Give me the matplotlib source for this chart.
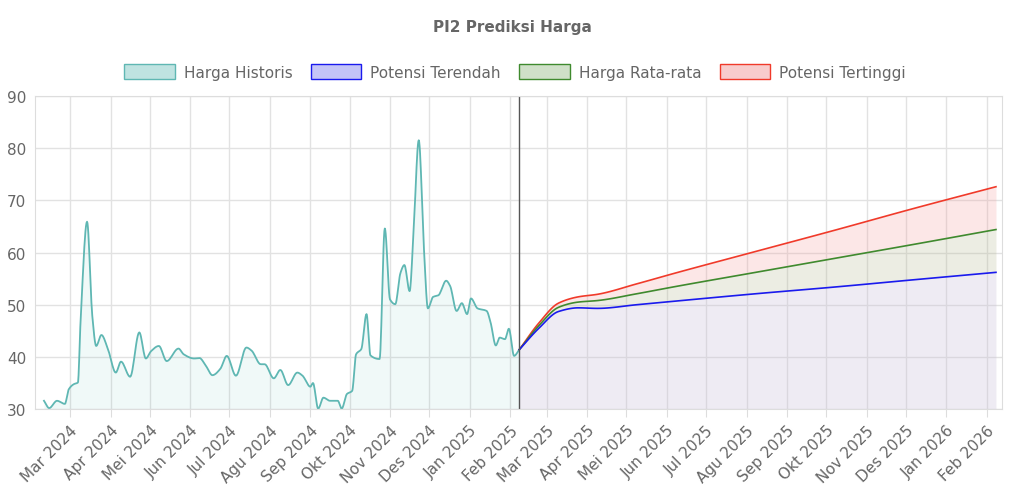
import numpy as np
import matplotlib
matplotlib.use("Agg")
import matplotlib.pyplot as plt
import matplotlib.dates as mdates
from datetime import date, timedelta

start = date(2024, 2, 10)
hist_days = [0,4,10,16,19,23,26,28,33,37,40,44,49,55,59,66,73,78,82,88,94,103,107,115,119,124,129,135,140,147,155,159,166,169,176,181,187,194,198,204,206,210,214,219,225,228,232,236,239,243,247,250,257,261,265,269,273,276,280,283,287,291,294,298,302,308,311,316,320,324,327,332,339,342,346,349,353,356,360,364]
hist_vals = [31.6,30.2,31.6,31,33.8,34.8,35.1,46.6,65.9,47.9,42.1,44.2,41.5,37,39.1,36.2,44.7,39.7,41.1,42.1,39.2,41.6,40.5,39.7,39.8,38.3,36.5,37.7,40.2,36.4,41.8,41.2,38.6,38.6,35.9,37.5,34.6,37,36.4,34.3,35,30.1,32.2,31.6,31.6,30.1,32.9,33.5,40.5,41.5,48.2,40.3,39.6,64.6,51,50.1,56.1,57.6,52.6,63.8,81.5,60.6,49.3,51.5,51.8,54.6,53.6,48.8,50.3,48.2,51.2,49.3,48.8,46.6,42.2,43.7,43.4,45.4,40.2,41.4]
fc_days = [364,379,394,409,424,454,484,545,606,667,729]
fc_low  = [41.4,45.5,48.7,49.4,49.3,50.0,50.7,52.1,53.4,54.8,56.2]
fc_avg  = [41.4,46.0,49.5,50.5,50.8,52.1,53.5,56.2,58.9,61.6,64.4]
fc_high = [41.4,46.5,50.3,51.5,52.0,54.0,56.1,60.2,64.3,68.5,72.6]
month_labels = ["Mar 2024","Apr 2024","Mei 2024","Jun 2024","Jul 2024","Agu 2024","Sep 2024","Okt 2024","Nov 2024","Des 2024","Jan 2025","Feb 2025","Mar 2025","Apr 2025","Mei 2025","Jun 2025","Jul 2025","Agu 2025","Sep 2025","Okt 2025","Nov 2025","Des 2025","Jan 2026","Feb 2026"]

def mono(x, y, n=12):
    x = np.asarray(x, float); y = np.asarray(y, float)
    h = np.diff(x); d = np.diff(y) / h
    m = np.zeros_like(y)
    m[0], m[-1] = d[0], d[-1]
    for i in range(1, len(y) - 1):
        if d[i-1] * d[i] <= 0:
            m[i] = 0
        else:
            w1 = 2*h[i] + h[i-1]; w2 = h[i] + 2*h[i-1]
            m[i] = (w1 + w2) / (w1/d[i-1] + w2/d[i])
    xs, ys = [], []
    for i in range(len(h)):
        t = np.linspace(0, 1, n, endpoint=False)
        h00 = 2*t**3-3*t**2+1; h10 = t**3-2*t**2+t; h01 = -2*t**3+3*t**2; h11 = t**3-t**2
        xs.append(x[i] + t*h[i])
        ys.append(h00*y[i] + h10*h[i]*m[i] + h01*y[i+1] + h11*h[i]*m[i+1])
    xs.append([x[-1]]); ys.append([y[-1]])
    return np.concatenate(xs), np.concatenate(ys)

def todate(days):
    base = mdates.date2num(start)
    return base + np.asarray(days, float)

fig = plt.figure(figsize=(10.24, 5.02), dpi=100)
ax = fig.add_axes([0.034, 0.183, 0.945, 0.624])

hx, hy = mono(hist_days, hist_vals)
lx, ly = mono(fc_days, fc_low)
ax_, ay = mono(fc_days, fc_avg)
gx, gy = mono(fc_days, fc_high)

ax.fill_between(todate(hx), 30, hy, color="#4bb3ad", alpha=0.08, lw=0)
ax.fill_between(todate(gx), ay, gy, color="#f4a0a0", alpha=0.25, lw=0)
ax.fill_between(todate(lx), ly, ay, color="#b5b890", alpha=0.25, lw=0)
ax.fill_between(todate(lx), 30, ly, color="#c8c0d8", alpha=0.3, lw=0)

ax.plot(todate(hx), hy, color="#5fb7b3", lw=1.3)
ax.plot(todate(gx), gy, color="#f03a2a", lw=1.2)
ax.plot(todate(ax_), ay, color="#3f8a2e", lw=1.2)
ax.plot(todate(lx), ly, color="#1a1aee", lw=1.2)
ax.axvline(todate([364])[0], color="#555555", lw=1)

ax.set_ylim(30, 90)
ax.set_yticks(range(30, 91, 10))
ax.set_xlim(todate([-7])[0], todate([734])[0])
ticks = [mdates.date2num(date(2024 + (2 + i) // 12, (2 + i) % 12 + 1, 1)) for i in range(len(month_labels))]
ax.set_xticks(ticks)
ax.set_xticklabels(month_labels, rotation=45, ha="right", rotation_mode="anchor", fontsize=11, color="#666666")
ax.tick_params(axis="y", labelsize=11, labelcolor="#666666", length=0, pad=6)
ax.tick_params(axis="x", length=6, color="#dddddd")
ax.grid(True, color="#e2e2e2", lw=1)
ax.set_axisbelow(True)
for s in ax.spines.values():
    s.set_color("#dddddd")

fig.text(0.5, 0.946, "PI2 Prediksi Harga", ha="center", va="center", fontsize=11, fontweight="bold", color="#666666")

from matplotlib.patches import Patch
handles = [Patch(facecolor="#bfe3e1", edgecolor="#5fb7b3", label="Harga Historis"),
           Patch(facecolor="#c4c4f7", edgecolor="#1a1aee", label="Potensi Terendah"),
           Patch(facecolor="#cfe0c8", edgecolor="#3f8a2e", label="Harga Rata-rata"),
           Patch(facecolor="#f8cccc", edgecolor="#f03a2a", label="Potensi Tertinggi")]
leg = fig.legend(handles=handles, loc="center", bbox_to_anchor=(0.503, 0.855), ncol=4, frameon=False,
                 fontsize=11, handlelength=3.3, handleheight=1.1, columnspacing=1.2, handletextpad=0.6)
for t in leg.get_texts():
    t.set_color("#666666")

fig.savefig("out.png", dpi=100)
